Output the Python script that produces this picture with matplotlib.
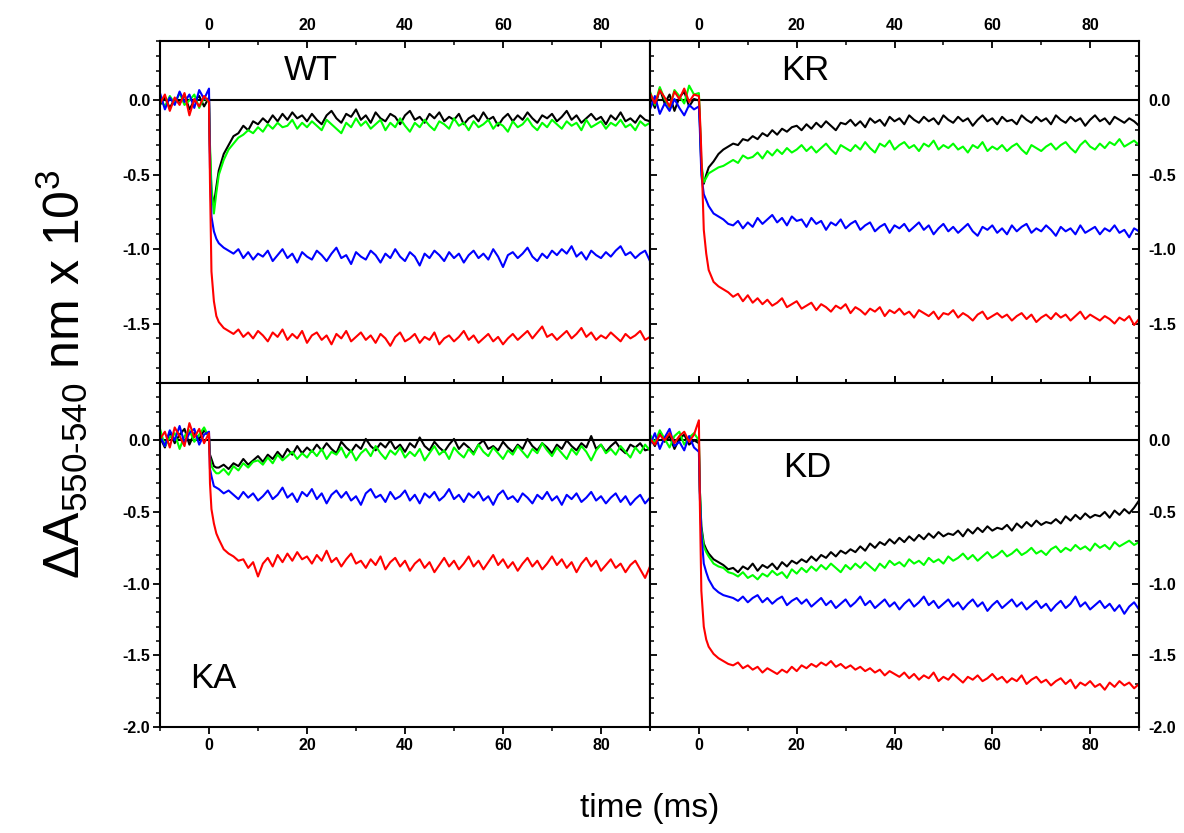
import numpy as np
import matplotlib
matplotlib.use('Agg')
import matplotlib.pyplot as plt
from matplotlib.ticker import MultipleLocator, FormatStrFormatter

plt.rcParams['font.family'] = 'Liberation Sans'
plt.rcParams['mathtext.fontset'] = 'custom'
plt.rcParams['mathtext.rm'] = 'Liberation Sans'
plt.rcParams['mathtext.it'] = 'Liberation Sans:italic'
plt.rcParams['axes.unicode_minus'] = False

# time base (ms): 1 ms before the flash, finer right after it
time = np.r_[np.arange(-10, 1), [0.2, 0.5, 1.0, 1.5], np.arange(2, 91)]

# ---- WT ----
wt_black = [
    -0.03, 0.02, -0.05, 0.01, -0.02, 0.04, -0.06, 0.00, 0.03, -0.04, 0.02,
    -0.35, -0.62, -0.70, -0.58,
    -0.47, -0.36, -0.30, -0.24, -0.22, -0.17, -0.20, -0.14, -0.16, -0.12,
    -0.15, -0.10, -0.14, -0.09, -0.13, -0.08, -0.12, -0.10, -0.14, -0.09,
    -0.13, -0.16, -0.10, -0.07, -0.12, -0.15, -0.09, -0.11, -0.06, -0.13,
    -0.10, -0.15, -0.08, -0.12, -0.14, -0.09, -0.11, -0.16, -0.10, -0.07,
    -0.13, -0.11, -0.15, -0.09, -0.12, -0.08, -0.14, -0.11, -0.13, -0.09,
    -0.16, -0.12, -0.10, -0.14, -0.08, -0.13, -0.11, -0.17, -0.12, -0.09,
    -0.14, -0.10, -0.13, -0.08, -0.12, -0.15, -0.10, -0.12, -0.09, -0.14,
    -0.11, -0.07, -0.13, -0.10, -0.15, -0.12, -0.09, -0.13, -0.11, -0.16,
    -0.10, -0.13, -0.08, -0.14, -0.12, -0.15, -0.10, -0.13, -0.14,
]
wt_green = [
    0.01, -0.04, 0.03, -0.02, 0.05, -0.03, 0.00, 0.04, -0.05, 0.02, -0.01,
    -0.30, -0.58, -0.76, -0.62,
    -0.50, -0.40, -0.33, -0.29, -0.25, -0.23, -0.20, -0.22, -0.18, -0.21,
    -0.16, -0.19, -0.15, -0.18, -0.17, -0.13, -0.19, -0.15, -0.18, -0.14,
    -0.17, -0.20, -0.13, -0.16, -0.19, -0.22, -0.15, -0.18, -0.12, -0.17,
    -0.14, -0.19, -0.16, -0.13, -0.20, -0.15, -0.18, -0.12, -0.17, -0.21,
    -0.15, -0.18, -0.13, -0.17, -0.20, -0.14, -0.16, -0.19, -0.12, -0.17,
    -0.15, -0.20, -0.14, -0.18, -0.16, -0.13, -0.19, -0.15, -0.17, -0.21,
    -0.14, -0.18, -0.16, -0.12, -0.17, -0.20, -0.15, -0.18, -0.13, -0.16,
    -0.19, -0.14, -0.17, -0.15, -0.20, -0.13, -0.18, -0.16, -0.14, -0.19,
    -0.15, -0.17, -0.13, -0.18, -0.16, -0.20, -0.14, -0.17, -0.15,
]
wt_blue = [
    0.05, -0.06, 0.02, -0.03, 0.06, -0.01, 0.04, -0.05, 0.07, 0.01, 0.08,
    -0.45, -0.78, -0.88, -0.93,
    -0.96, -0.99, -1.01, -1.03, -1.00, -1.06, -1.02, -1.07, -1.03, -1.05,
    -1.01, -1.08, -1.04, -1.00, -1.06, -1.03, -1.09, -1.02, -1.05, -1.07,
    -1.01, -1.04, -1.08, -1.03, -0.99, -1.06, -1.04, -1.10, -1.02, -1.05,
    -1.07, -1.01, -1.04, -1.09, -1.03, -1.06, -1.00, -1.05, -1.08, -1.02,
    -1.05, -1.11, -1.03, -1.06, -1.01, -1.04, -1.08, -1.02, -1.06, -1.03,
    -1.09, -1.04, -1.01, -1.06, -1.03, -1.07, -1.00, -1.05, -1.12, -1.04,
    -1.02, -1.06, -1.03, -0.99, -1.05, -1.08, -1.03, -1.06, -1.01, -1.04,
    -1.00, -1.03, -0.98, -1.05, -1.02, -1.07, -1.01, -1.04, -1.06, -1.02,
    -1.05, -1.01, -0.98, -1.04, -1.02, -1.06, -1.03, -1.01, -1.08,
]
wt_red = [
    -0.02, 0.04, -0.07, 0.02, -0.03, 0.05, -0.10, 0.01, -0.04, 0.03, -0.01,
    -0.55, -1.15, -1.35, -1.45,
    -1.49, -1.53, -1.55, -1.57, -1.54, -1.59, -1.56, -1.60, -1.55, -1.58,
    -1.62, -1.56, -1.59, -1.54, -1.61, -1.57, -1.60, -1.55, -1.63, -1.58,
    -1.56, -1.61, -1.58, -1.64, -1.57, -1.60, -1.55, -1.62, -1.59, -1.56,
    -1.61, -1.58, -1.63, -1.57, -1.60, -1.65, -1.59, -1.56, -1.62, -1.60,
    -1.57, -1.63, -1.59, -1.61, -1.56, -1.64, -1.60, -1.58, -1.62, -1.59,
    -1.55, -1.61, -1.58, -1.63, -1.60, -1.57, -1.62, -1.59, -1.64, -1.60,
    -1.57, -1.61, -1.58, -1.55, -1.60, -1.56, -1.52, -1.59, -1.57, -1.61,
    -1.58, -1.55, -1.60, -1.57, -1.53, -1.59, -1.56, -1.61, -1.58, -1.60,
    -1.56, -1.59, -1.62, -1.57, -1.60, -1.58, -1.55, -1.61, -1.59,
]

# ---- KR ----
kr_black = [
    0.03, -0.05, 0.08, -0.02, 0.04, -0.07, 0.02, 0.06, -0.04, 0.01, 0.00,
    -0.15, -0.45, -0.56, -0.50,
    -0.45, -0.41, -0.36, -0.33, -0.31, -0.29, -0.30, -0.26, -0.27, -0.24,
    -0.26, -0.22, -0.24, -0.20, -0.23, -0.19, -0.21, -0.18, -0.17, -0.20,
    -0.16, -0.19, -0.15, -0.18, -0.14, -0.17, -0.20, -0.15, -0.16, -0.13,
    -0.17, -0.14, -0.18, -0.12, -0.15, -0.13, -0.17, -0.11, -0.14, -0.12,
    -0.16, -0.10, -0.13, -0.15, -0.11, -0.14, -0.12, -0.16, -0.10, -0.13,
    -0.15, -0.11, -0.14, -0.12, -0.17, -0.13, -0.10, -0.14, -0.12, -0.16,
    -0.11, -0.14, -0.13, -0.16, -0.10, -0.13, -0.15, -0.11, -0.14, -0.12,
    -0.16, -0.10, -0.13, -0.15, -0.11, -0.14, -0.12, -0.17, -0.13, -0.10,
    -0.14, -0.12, -0.16, -0.11, -0.13, -0.15, -0.12, -0.14, -0.17,
]
kr_green = [
    0.06, -0.03, 0.09, 0.01, -0.05, 0.07, 0.03, -0.02, 0.10, 0.04, 0.05,
    -0.12, -0.42, -0.55, -0.52,
    -0.49, -0.47, -0.45, -0.44, -0.42, -0.40, -0.42, -0.37, -0.39, -0.38,
    -0.35, -0.39, -0.34, -0.37, -0.33, -0.36, -0.32, -0.35, -0.33, -0.30,
    -0.34, -0.31, -0.35, -0.32, -0.29, -0.33, -0.36, -0.30, -0.32, -0.34,
    -0.30, -0.33, -0.28, -0.32, -0.35, -0.29, -0.31, -0.27, -0.33, -0.30,
    -0.28, -0.32, -0.30, -0.34, -0.29, -0.31, -0.27, -0.33, -0.30, -0.32,
    -0.29, -0.33, -0.31, -0.35, -0.30, -0.32, -0.28, -0.34, -0.31, -0.33,
    -0.30, -0.34, -0.31, -0.29, -0.33, -0.36, -0.30, -0.32, -0.34, -0.31,
    -0.29, -0.33, -0.30, -0.28, -0.32, -0.35, -0.30, -0.27, -0.31, -0.33,
    -0.29, -0.32, -0.28, -0.30, -0.26, -0.31, -0.29, -0.27, -0.30,
]
kr_blue = [
    -0.06, 0.03, -0.09, -0.02, -0.07, 0.01, -0.05, -0.10, -0.03, -0.06, -0.04,
    -0.20, -0.50, -0.63, -0.67,
    -0.71, -0.76, -0.78, -0.80, -0.83, -0.84, -0.81, -0.86, -0.82, -0.85,
    -0.79, -0.83, -0.80, -0.77, -0.82, -0.79, -0.84, -0.78, -0.81, -0.80,
    -0.85, -0.79, -0.83, -0.81, -0.87, -0.82, -0.84, -0.80, -0.86, -0.83,
    -0.81, -0.87, -0.84, -0.82, -0.88, -0.85, -0.83, -0.89, -0.84, -0.86,
    -0.83, -0.88, -0.85, -0.82, -0.87, -0.84, -0.90, -0.86, -0.83, -0.88,
    -0.85, -0.89, -0.86, -0.83, -0.88, -0.91, -0.85, -0.87, -0.84, -0.89,
    -0.86, -0.90, -0.84, -0.88, -0.85, -0.83, -0.89, -0.86, -0.88, -0.84,
    -0.87, -0.91, -0.85, -0.88, -0.86, -0.90, -0.84, -0.89, -0.87, -0.85,
    -0.90, -0.86, -0.88, -0.84, -0.89, -0.87, -0.92, -0.86, -0.88,
]
kr_red = [
    0.05, -0.02, 0.07, 0.02, -0.04, 0.06, 0.01, 0.08, -0.01, 0.04, 0.03,
    -0.10, -0.35, -0.87, -1.03,
    -1.14, -1.22, -1.25, -1.27, -1.29, -1.32, -1.30, -1.35, -1.31, -1.36,
    -1.33, -1.37, -1.34, -1.38, -1.36, -1.33, -1.39, -1.37, -1.35, -1.40,
    -1.38, -1.36, -1.41, -1.37, -1.39, -1.42, -1.38, -1.40, -1.37, -1.43,
    -1.39, -1.41, -1.44, -1.40, -1.42, -1.39, -1.45, -1.41, -1.43, -1.40,
    -1.44, -1.42, -1.46, -1.41, -1.43, -1.45, -1.42, -1.47, -1.43, -1.44,
    -1.41, -1.46, -1.43, -1.45, -1.48, -1.44, -1.42, -1.47, -1.45, -1.43,
    -1.46, -1.44, -1.48, -1.45, -1.43, -1.47, -1.44, -1.49, -1.46, -1.44,
    -1.47, -1.43, -1.46, -1.44, -1.48, -1.45, -1.42, -1.47, -1.44, -1.46,
    -1.48, -1.45, -1.47, -1.50, -1.46, -1.48, -1.45, -1.51, -1.47,
]

# ---- KA ----
ka_black = [
    0.02, -0.05, 0.06, -0.02, 0.04, 0.08, -0.03, 0.05, 0.01, 0.07, 0.03,
    -0.10, -0.13, -0.18, -0.19,
    -0.19, -0.17, -0.20, -0.16, -0.18, -0.13, -0.17, -0.14, -0.11, -0.15,
    -0.10, -0.13, -0.08, -0.12, -0.06, -0.10, -0.04, -0.09, -0.05, -0.08,
    -0.03, -0.07, -0.02, -0.06, -0.09, -0.01, -0.05, -0.08, -0.03, -0.06,
    0.01, -0.04, -0.07, -0.02, -0.05, 0.00, -0.06, -0.03, -0.08, -0.02,
    -0.05, 0.02, -0.04, -0.07, -0.01, -0.05, -0.08, -0.03, 0.01, -0.06,
    -0.02, -0.05, -0.09, -0.03, 0.00, -0.06, -0.04, -0.07, -0.01, -0.05,
    -0.08, -0.03, -0.06, 0.01, -0.04, -0.07, -0.02, -0.05, -0.09, -0.03,
    -0.06, 0.00, -0.04, -0.07, -0.02, -0.05, 0.03, -0.06, -0.03, -0.08,
    -0.04, -0.01, -0.06, -0.09, -0.03, -0.05, -0.02, -0.07, -0.06,
]
ka_green = [
    0.08, -0.04, 0.02, 0.05, -0.06, 0.03, 0.07, -0.01, 0.04, 0.09, 0.02,
    -0.12, -0.18, -0.21, -0.23,
    -0.23, -0.20, -0.24, -0.18, -0.21, -0.16, -0.19, -0.15, -0.14, -0.17,
    -0.12, -0.16, -0.10, -0.14, -0.11, -0.08, -0.13, -0.09, -0.12, -0.07,
    -0.11, -0.06, -0.13, -0.08, -0.10, -0.05, -0.12, -0.07, -0.14, -0.09,
    -0.06, -0.11, -0.04, -0.09, -0.13, -0.07, -0.10, -0.05, -0.12, -0.08,
    -0.11, -0.06, -0.14, -0.09, -0.04, -0.10, -0.07, -0.13, -0.05, -0.09,
    -0.12, -0.06, -0.10, -0.03, -0.08, -0.11, -0.05, -0.09, -0.13, -0.07,
    -0.10, -0.04, -0.08, -0.12, -0.06, -0.09, -0.02, -0.07, -0.11, -0.05,
    -0.09, -0.13, -0.06, -0.10, -0.04, -0.08, -0.14, -0.07, -0.03, -0.09,
    -0.06, -0.10, -0.04, -0.08, -0.12, -0.05, -0.09, -0.03, -0.07,
]
ka_blue = [
    0.03, -0.04, 0.07, 0.00, 0.10, -0.02, 0.05, 0.08, -0.03, 0.04, 0.06,
    -0.20, -0.25, -0.32, -0.33,
    -0.34, -0.37, -0.35, -0.38, -0.41, -0.36, -0.40, -0.37, -0.42, -0.39,
    -0.35, -0.41, -0.38, -0.33, -0.40, -0.37, -0.43, -0.36, -0.39, -0.34,
    -0.41, -0.37, -0.44, -0.38, -0.35, -0.40, -0.36, -0.42, -0.39, -0.45,
    -0.37, -0.34, -0.40, -0.38, -0.43, -0.36, -0.41, -0.39, -0.35, -0.42,
    -0.38, -0.44, -0.37, -0.40, -0.36, -0.42, -0.39, -0.34, -0.41, -0.38,
    -0.43, -0.37, -0.40, -0.36, -0.42, -0.39, -0.45, -0.38, -0.35, -0.41,
    -0.39, -0.43, -0.37, -0.40, -0.44, -0.38, -0.41, -0.36, -0.42, -0.39,
    -0.45, -0.38, -0.41, -0.37, -0.43, -0.40, -0.36, -0.42, -0.39, -0.44,
    -0.40, -0.37, -0.43, -0.39, -0.45, -0.41, -0.38, -0.44, -0.40,
]
ka_red = [
    0.01, 0.06, -0.05, 0.09, 0.03, -0.04, 0.12, 0.02, 0.08, -0.02, 0.05,
    -0.30, -0.48, -0.58, -0.65,
    -0.69, -0.76, -0.79, -0.81, -0.84, -0.83, -0.89, -0.85, -0.95, -0.86,
    -0.82, -0.88, -0.80, -0.85, -0.79, -0.84, -0.78, -0.83, -0.81, -0.86,
    -0.80, -0.84, -0.77, -0.85, -0.82, -0.88, -0.83, -0.79, -0.86, -0.84,
    -0.89, -0.83, -0.87, -0.81, -0.90, -0.85, -0.82, -0.88, -0.84, -0.91,
    -0.86, -0.83, -0.89, -0.85, -0.92, -0.87, -0.82, -0.88, -0.84, -0.90,
    -0.86, -0.81, -0.88, -0.84, -0.90, -0.85, -0.80, -0.87, -0.83, -0.89,
    -0.85, -0.91, -0.86, -0.82, -0.88, -0.84, -0.90, -0.86, -0.81, -0.87,
    -0.83, -0.89, -0.85, -0.92, -0.86, -0.82, -0.88, -0.84, -0.91, -0.87,
    -0.83, -0.89, -0.86, -0.92, -0.87, -0.84, -0.90, -0.96, -0.88,
]

# ---- KD ----
kd_black = [
    0.02, -0.04, 0.05, -0.01, 0.03, -0.06, 0.01, 0.04, -0.03, 0.00, -0.02,
    -0.35, -0.60, -0.72, -0.76,
    -0.79, -0.83, -0.85, -0.87, -0.90, -0.89, -0.92, -0.88, -0.90, -0.86,
    -0.91, -0.87, -0.89, -0.86, -0.90, -0.85, -0.88, -0.84, -0.86, -0.83,
    -0.85, -0.81, -0.84, -0.80, -0.82, -0.78, -0.81, -0.77, -0.79, -0.76,
    -0.78, -0.74, -0.77, -0.72, -0.75, -0.71, -0.73, -0.69, -0.72, -0.68,
    -0.71, -0.67, -0.70, -0.66, -0.69, -0.65, -0.68, -0.64, -0.67, -0.65,
    -0.66, -0.63, -0.67, -0.62, -0.65, -0.61, -0.64, -0.60, -0.63, -0.61,
    -0.62, -0.59, -0.63, -0.58, -0.61, -0.57, -0.60, -0.56, -0.59, -0.57,
    -0.58, -0.55, -0.58, -0.53, -0.56, -0.52, -0.55, -0.51, -0.54, -0.52,
    -0.53, -0.50, -0.54, -0.49, -0.52, -0.48, -0.51, -0.47, -0.42,
]
kd_green = [
    0.04, -0.02, 0.07, 0.01, -0.05, 0.03, 0.06, -0.03, 0.02, 0.05, 0.00,
    -0.35, -0.62, -0.74, -0.78,
    -0.81, -0.86, -0.88, -0.89, -0.92, -0.93, -0.95, -0.92, -0.96, -0.94,
    -0.97, -0.93, -0.95, -0.91, -0.94, -0.92, -0.96, -0.90, -0.93, -0.89,
    -0.92, -0.88, -0.91, -0.87, -0.90, -0.86, -0.89, -0.92, -0.87, -0.90,
    -0.86, -0.89, -0.85, -0.88, -0.91, -0.86, -0.89, -0.84, -0.87, -0.85,
    -0.88, -0.83, -0.86, -0.84, -0.87, -0.82, -0.85, -0.83, -0.86, -0.81,
    -0.84, -0.82, -0.79, -0.83, -0.80, -0.84, -0.81, -0.78, -0.82, -0.80,
    -0.77, -0.81, -0.79, -0.76, -0.80, -0.78, -0.75, -0.79, -0.77, -0.80,
    -0.76, -0.74, -0.78, -0.75, -0.77, -0.73, -0.76, -0.74, -0.77, -0.72,
    -0.75, -0.73, -0.76, -0.71, -0.74, -0.72, -0.70, -0.73, -0.71,
]
kd_blue = [
    -0.03, 0.05, -0.06, 0.02, 0.08, -0.04, -0.01, -0.07, 0.03, -0.05, -0.08,
    -0.40, -0.65, -0.86, -0.92,
    -0.97, -1.03, -1.06, -1.08, -1.09, -1.10, -1.12, -1.09, -1.13, -1.10,
    -1.08, -1.13, -1.10, -1.14, -1.11, -1.09, -1.15, -1.12, -1.10, -1.14,
    -1.11, -1.16, -1.13, -1.10, -1.15, -1.12, -1.17, -1.14, -1.11, -1.16,
    -1.13, -1.09, -1.15, -1.12, -1.17, -1.14, -1.11, -1.16, -1.13, -1.18,
    -1.14, -1.11, -1.16, -1.13, -1.09, -1.15, -1.12, -1.17, -1.14, -1.11,
    -1.16, -1.13, -1.18, -1.14, -1.11, -1.16, -1.13, -1.19, -1.15, -1.12,
    -1.17, -1.14, -1.11, -1.16, -1.13, -1.18, -1.15, -1.12, -1.17, -1.14,
    -1.19, -1.15, -1.12, -1.17, -1.14, -1.09, -1.16, -1.13, -1.18, -1.15,
    -1.12, -1.17, -1.14, -1.19, -1.15, -1.21, -1.16, -1.13, -1.18,
]
kd_red = [
    0.01, -0.03, 0.04, 0.00, 0.05, -0.02, 0.03, 0.06, -0.01, 0.04, 0.14,
    -0.45, -1.05, -1.30, -1.39,
    -1.44, -1.49, -1.52, -1.54, -1.56, -1.57, -1.55, -1.59, -1.57, -1.60,
    -1.58, -1.62, -1.59, -1.61, -1.63, -1.60, -1.62, -1.58, -1.61, -1.57,
    -1.59, -1.56, -1.58, -1.55, -1.57, -1.54, -1.58, -1.56, -1.59, -1.57,
    -1.60, -1.58, -1.61, -1.59, -1.62, -1.60, -1.64, -1.61, -1.63, -1.65,
    -1.62, -1.66, -1.63, -1.67, -1.64, -1.66, -1.62, -1.68, -1.65, -1.67,
    -1.63, -1.66, -1.69, -1.65, -1.67, -1.64, -1.68, -1.66, -1.63, -1.67,
    -1.65, -1.69, -1.66, -1.68, -1.64, -1.70, -1.67, -1.65, -1.69, -1.67,
    -1.71, -1.68, -1.66, -1.70, -1.67, -1.73, -1.69, -1.71, -1.68, -1.72,
    -1.70, -1.74, -1.69, -1.72, -1.68, -1.71, -1.69, -1.73, -1.70,
]

colors = ['#000000', '#00ff00', '#0000ff', '#ff0000']

fig = plt.figure(figsize=(11.84, 8.33), dpi=100)

L, M, R = 160 / 1184, 650 / 1184, 1139 / 1184
T, C, B = 1 - 41 / 833, 1 - 383 / 833, 1 - 727 / 833

# name, rect, traces, ylim, label position, column, row
panels = [
    ('WT', [L, C, M - L, T - C], [wt_black, wt_green, wt_blue, wt_red],
     (-1.9, 0.4), (20.7, 0.20), 'left', 'top'),
    ('KR', [M, C, R - M, T - C], [kr_black, kr_green, kr_blue, kr_red],
     (-1.9, 0.4), (21.7, 0.20), 'right', 'top'),
    ('KA', [L, B, M - L, C - B], [ka_black, ka_green, ka_blue, ka_red],
     (-2.0, 0.4), (0.9, -1.66), 'left', 'bottom'),
    ('KD', [M, B, R - M, C - B], [kd_black, kd_green, kd_blue, kd_red],
     (-2.0, 0.4), (22.1, -0.19), 'right', 'bottom'),
]

for name, rect, traces, ylim, (lx, ly), col, row in panels:
    ax = fig.add_axes(rect)
    ax.axhline(0, color='black', lw=1.5, zorder=1)
    for y, c in zip(traces, colors):
        ax.plot(time, y, color=c, lw=1.5, zorder=2)
    ax.set_xlim(-10, 90)
    ax.set_ylim(*ylim)
    ax.text(lx, ly, name, fontsize=25, ha='center', va='center')

    ax.xaxis.set_major_locator(MultipleLocator(20))
    ax.xaxis.set_minor_locator(MultipleLocator(10))
    ax.yaxis.set_major_locator(MultipleLocator(0.5))
    ax.yaxis.set_minor_locator(MultipleLocator(0.1))
    ax.yaxis.set_major_formatter(FormatStrFormatter('%.1f'))

    for sp in ax.spines.values():
        sp.set_linewidth(1.5)

    if row == 'top':
        ax.tick_params(axis='x', which='both', direction='in', top=True,
                       bottom=True, labeltop=True, labelbottom=False, pad=6)
    else:
        ax.tick_params(axis='x', which='both', direction='out', top=True,
                       bottom=True, labeltop=False, labelbottom=True, pad=3)
    if col == 'left':
        ax.tick_params(axis='y', which='both', direction='out', left=True,
                       right=True, labelleft=True, labelright=False, pad=2)
    else:
        ax.tick_params(axis='y', which='both', direction='in', left=True,
                       right=True, labelleft=False, labelright=True, pad=7)
    ax.tick_params(which='major', length=5, width=1.3)
    ax.tick_params(which='minor', length=3, width=1.1)
    for lab in ax.get_xticklabels() + ax.get_yticklabels():
        lab.set_fontweight('bold')
        lab.set_fontsize(11.5)

fig.text(0.052, 0.55, r'ΔA$_{\text{550-540}}$ nm x 10$^{3}$', rotation=90,
         ha='center', va='center', fontsize=36)
fig.text(0.549, 0.03, 'time (ms)', ha='center', va='center', fontsize=24)

fig.savefig('out.png', dpi=100)
